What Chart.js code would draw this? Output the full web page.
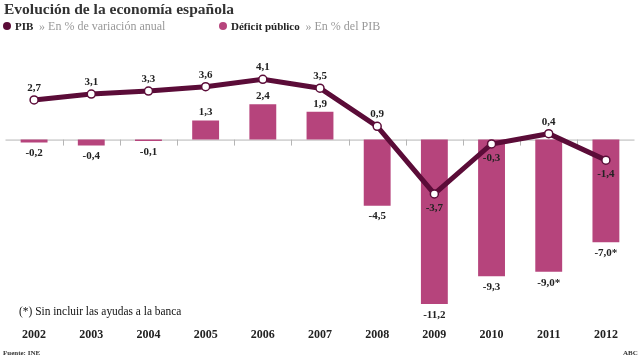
<!DOCTYPE html>
<html>
<head>
<meta charset="utf-8">
<script src="https://cdn.jsdelivr.net/npm/chart.js@4"></script>
<style>
  html, body { margin: 0; padding: 0; background: #fff; }
  #wrap { position: relative; width: 640px; height: 360px; overflow: hidden; font-family: "Liberation Serif", "DejaVu Serif", serif; }
  #wrap canvas { position: absolute; left: 0; top: 0; }
  .txt { position: absolute; white-space: nowrap; color: #222; line-height: 1; }
  .title { left: 4px; top: 1px; font-size: 15.5px; font-weight: bold; color: #333; }
  .leg { top: 20px; font-size: 11px; }
  .leg b { color: #222; }
  .leg span { color: #999; font-size: 12px; }
  .dot { display: inline-block; width: 8px; height: 8px; border-radius: 50%; margin-right: 4px; }
  .note { left: 19px; top: 305px; font-size: 12px; color: #111; transform: scaleX(0.95); transform-origin: left top; }
  .src { top: 350px; font-size: 7px; font-weight: bold; color: #333; }
</style>
</head>
<body>
<div id="wrap">
  <canvas id="chart" width="640" height="360"></canvas>
  <div class="txt title">Evolución de la economía española</div>
  <div class="txt leg" style="left:3px"><i class="dot" style="background:#5b0c38"></i><b>PIB</b> <span>&nbsp;» En % de variación anual</span></div>
  <div class="txt leg" style="left:219px"><i class="dot" style="background:#b6447c"></i><b>Déficit público</b> <span>&nbsp;» En % del PIB</span></div>
  <div class="txt note">(*) Sin incluir las ayudas a la banca</div>
  <div class="txt src" style="left:3px">Fuente: INE</div>
  <div class="txt src" style="left:623px">ABC</div>
</div>
<script>
// datos
const years = ["2002", "2003", "2004", "2005", "2006", "2007", "2008", "2009", "2010", "2011", "2012"];
const pib = [2.7, 3.1, 3.3, 3.6, 4.1, 3.5, 0.9, -3.7, -0.3, 0.4, -1.4];
const deficit = [-0.2, -0.4, -0.1, 1.3, 2.4, 1.9, -4.5, -11.2, -9.3, -9.0, -7.0];
const deficitMarks = ["", "", "", "", "", "", "", "", "", "*", "*"];

const fmt = (v) => v.toFixed(1).replace(".", ",");

// base line at zero + small ticks between years, then value labels
const extras = {
  id: "extras",
  beforeDatasetsDraw(chart) {
    const ctx = chart.ctx;
    const x = chart.scales.x;
    const y0 = chart.scales.y.getPixelForValue(0);
    ctx.save();
    ctx.strokeStyle = "#b5b5b5";
    ctx.lineWidth = 1;
    ctx.beginPath();
    ctx.moveTo(chart.chartArea.left, y0 + 0.5);
    ctx.lineTo(chart.chartArea.right, y0 + 0.5);
    for (let i = 0; i < years.length - 1; i++) {
      const xm = Math.round((x.getPixelForValue(i) + x.getPixelForValue(i + 1)) / 2) + 0.5;
      ctx.moveTo(xm, y0);
      ctx.lineTo(xm, y0 + 6);
    }
    ctx.stroke();
    ctx.restore();
  },
  afterDatasetsDraw(chart) {
    const ctx = chart.ctx;
    ctx.save();
    ctx.font = "bold 11px 'Liberation Serif', serif";
    ctx.textAlign = "center";
    ctx.textBaseline = "middle";
    ctx.fillStyle = "#222";
    const bars = chart.getDatasetMeta(1).data;
    bars.forEach((b, i) => {
      const v = deficit[i];
      const yy = v >= 0 ? b.y - 8 : b.y + 11;
      ctx.fillText(fmt(v) + deficitMarks[i], b.x, yy);
    });
    const pts = chart.getDatasetMeta(0).data;
    pts.forEach((p, i) => {
      const v = pib[i];
      const yy = v >= 0 ? p.y - 12 : p.y + 14;
      ctx.fillText(fmt(v), p.x, yy);
    });
    ctx.restore();
  },
};

new Chart(document.getElementById("chart").getContext("2d"), {
  data: {
    labels: years,
    datasets: [
      {
        type: "line",
        label: "PIB",
        data: pib,
        borderColor: "#5b0c38",
        borderWidth: 5,
        tension: 0,
        pointRadius: 4,
        pointBackgroundColor: "#ffffff",
        pointBorderColor: "#5b0c38",
        pointBorderWidth: 1.5,
        order: 0,
      },
      {
        type: "bar",
        label: "Déficit público",
        data: deficit,
        backgroundColor: "#b6447c",
        barPercentage: 0.47,
        categoryPercentage: 1,
        order: 1,
      },
    ],
  },
  options: {
    responsive: false,
    animation: false,
    layout: { padding: { top: 50, bottom: 13, left: 1, right: 3 } },
    plugins: { legend: { display: false }, tooltip: { enabled: false } },
    scales: {
      y: { display: false, min: -11.92, max: 6.1 },
      x: {
        grid: { display: false },
        border: { display: false },
        ticks: {
          color: "#222",
          padding: 5,
          font: { family: "'Liberation Serif', serif", size: 12, weight: "bold" },
        },
      },
    },
  },
  plugins: [extras],
});
</script>
</body>
</html>
